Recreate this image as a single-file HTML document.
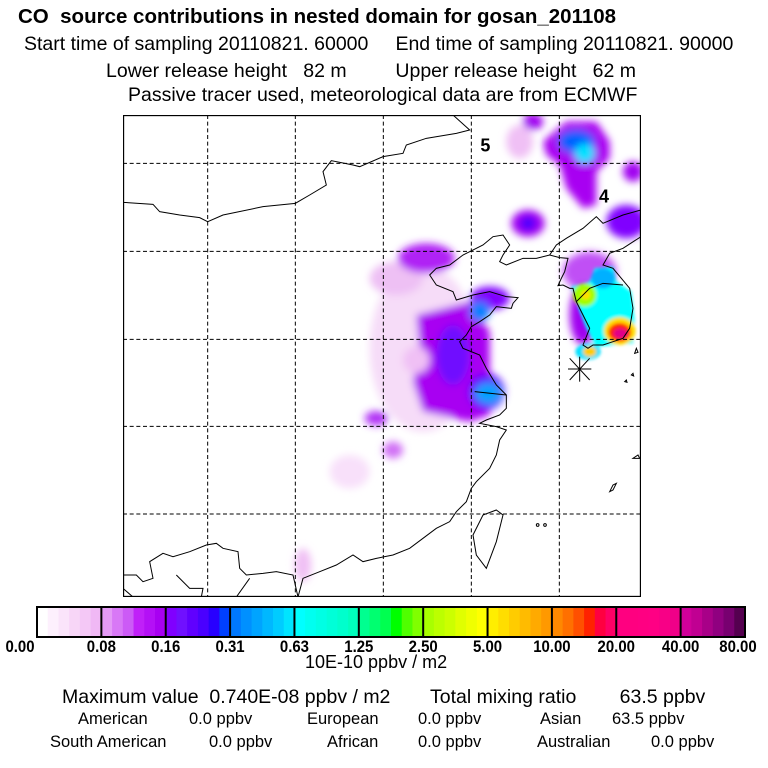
<!DOCTYPE html>
<html><head><meta charset="utf-8"><style>
body{margin:0;background:#fff;width:768px;height:768px;overflow:hidden;position:relative;font-family:"Liberation Sans",sans-serif;color:#000}
.t{position:absolute;white-space:nowrap}
.s{font-size:16.5px}
</style></head><body>
<div class="t" style="left:18px;top:5px;font-size:20.5px;font-weight:bold">CO&nbsp; source contributions in nested domain for gosan_201108</div>
<div class="t" style="left:24px;top:33px;font-size:19.5px">Start time of sampling 20110821. 60000&nbsp;&nbsp;&nbsp;&nbsp;&nbsp;End time of sampling 20110821. 90000</div>
<div class="t" style="left:106px;top:60px;font-size:19.5px">Lower release height&nbsp;&nbsp; 82 m&nbsp;&nbsp;&nbsp;&nbsp;&nbsp;&nbsp;&nbsp;&nbsp; Upper release height&nbsp;&nbsp; 62 m</div>
<div class="t" style="left:128px;top:84px;font-size:19.5px">Passive tracer used, meteorological data are from ECMWF</div>

<svg style="position:absolute;left:123px;top:115px" width="518" height="482" viewBox="0 0 1554 1446" preserveAspectRatio="none">
<defs>
<filter id="b" x="-50%" y="-50%" width="200%" height="200%"><feGaussianBlur stdDeviation="12"/></filter>
<filter id="b2" x="-50%" y="-50%" width="200%" height="200%"><feGaussianBlur stdDeviation="5"/></filter>
<clipPath id="cp"><rect width="1554" height="1446"/></clipPath>
</defs>
<g clip-path="url(#cp)">
<g filter="url(#b)">
<ellipse cx="900" cy="700" rx="160" ry="250" fill="#f6dcf8"/>
<ellipse cx="820" cy="490" rx="80" ry="50" fill="#eec0f4"/>
<ellipse cx="680" cy="1070" rx="60" ry="50" fill="#f8e0fa"/>
<ellipse cx="540" cy="1350" rx="25" ry="50" fill="#f0c0f4"/>
<ellipse cx="810" cy="1005" rx="30" ry="25" fill="#d070f5"/>
<ellipse cx="760" cy="910" rx="35" ry="22" fill="#b030f5"/>
<ellipse cx="910" cy="430" rx="85" ry="45" fill="#b020f5"/>
<path d="M880,600 L1040,560 L1100,650 L1100,900 L1040,920 L900,890 L870,800 L890,700 Z" fill="#a800f2"/>
<ellipse cx="990" cy="720" rx="50" ry="90" fill="#7010ff"/>
<ellipse cx="880" cy="735" rx="40" ry="40" fill="#f0c0f5"/>
<ellipse cx="1100" cy="550" rx="60" ry="35" fill="#8000ff"/>
<ellipse cx="1070" cy="590" rx="30" ry="30" fill="#0080ff"/>
<ellipse cx="1090" cy="830" rx="55" ry="55" fill="#6000ff"/>
<ellipse cx="1095" cy="835" rx="40" ry="32" fill="#00a0ff"/>
<ellipse cx="1190" cy="80" rx="40" ry="50" fill="#f0c0f5"/>
<ellipse cx="1230" cy="20" rx="30" ry="25" fill="#a000f0"/>
<ellipse cx="1215" cy="325" rx="50" ry="40" fill="#a000f0"/>
<ellipse cx="1215" cy="325" rx="22" ry="20" fill="#4000ff"/>
<path d="M1260,80 L1330,20 L1420,20 L1460,80 L1460,130 L1420,170 L1420,270 L1380,280 L1330,220 L1310,150 L1270,120 Z" fill="#a800f2"/>
<ellipse cx="1360" cy="80" rx="55" ry="35" fill="#0060ff"/>
<ellipse cx="1385" cy="115" rx="30" ry="30" fill="#00e0ff"/>
<ellipse cx="1530" cy="170" rx="30" ry="30" fill="#a000f0"/>
<ellipse cx="1510" cy="320" rx="60" ry="50" fill="#8000ff"/>
<ellipse cx="1400" cy="470" rx="80" ry="60" fill="#c050f5"/>
<ellipse cx="1380" cy="600" rx="40" ry="90" fill="#a000f0"/>
</g>
<g filter="url(#b2)">
<path d="M1345,515 L1400,500 L1415,460 L1470,455 L1480,500 L1525,530 L1535,620 L1530,685 L1420,695 L1390,640 L1370,590 Z" fill="#00ffff"/>
<ellipse cx="1440" cy="490" rx="35" ry="30" fill="#00b0ff"/>
<ellipse cx="1385" cy="540" rx="35" ry="35" fill="#a0ff00"/>
<ellipse cx="1388" cy="540" rx="14" ry="14" fill="#ffdd00"/>
<ellipse cx="1490" cy="648" rx="48" ry="42" fill="#ffdd00"/>
<ellipse cx="1490" cy="652" rx="34" ry="28" fill="#ff2200"/>
<ellipse cx="1492" cy="655" rx="20" ry="15" fill="#e0008a"/>
<ellipse cx="1395" cy="710" rx="38" ry="24" fill="#00e0ff"/>
<ellipse cx="1400" cy="710" rx="20" ry="15" fill="#ffcc00"/>
</g>
<g stroke="#000" stroke-width="3" stroke-dasharray="12,8">
<line x1="254" y1="0" x2="254" y2="1446"/><line x1="517" y1="0" x2="517" y2="1446"/><line x1="781" y1="0" x2="781" y2="1446"/><line x1="1045" y1="0" x2="1045" y2="1446"/><line x1="1309" y1="0" x2="1309" y2="1446"/>
<line x1="0" y1="145" x2="1554" y2="145"/><line x1="0" y1="409" x2="1554" y2="409"/><line x1="0" y1="673" x2="1554" y2="673"/><line x1="0" y1="934" x2="1554" y2="934"/><line x1="0" y1="1197" x2="1554" y2="1197"/>
</g>
<g fill="none" stroke="#000" stroke-width="3">
<path d="M0,262 L90,268 L110,290 L170,300 L230,308 L254,320 L300,300 L420,275 L517,265 L560,240 L610,210 L600,170 L625,137 L690,150 L710,155 L780,125 L840,115 L850,90 L910,70 L1000,55 L1040,45 L990,0"/>
<path d="M1554,365 L1500,400 L1460,415 L1440,450 L1470,460 L1520,520 L1530,580 L1520,640 L1500,670 L1470,680 L1440,690 L1410,690 L1395,700 L1380,690 L1400,640 L1380,600 L1360,560 L1350,520 L1340,520 L1320,510 L1305,512 L1315,490 L1325,470 L1335,430 L1310,428 L1280,420 L1240,430 L1200,430 L1150,450 L1130,440 L1140,420 L1160,390 L1140,360 L1110,365 L1080,390 L1040,410 L1020,420 L980,450 L940,460 L920,480 L940,510 L990,530 L1000,555 L1050,540 L1100,530 L1150,545 L1185,548 L1170,565 L1165,580 L1120,575 L1100,600 L1070,620 L1045,635 L1030,660 L1010,680 L1020,700 L1070,720 L1090,760 L1120,810 L1150,840 L1150,880 L1130,900 L1090,915 L1070,925 L1120,935 L1150,945 L1130,975 L1120,1020 L1100,1060 L1060,1100 L1045,1120 L1030,1160 L1000,1190 L980,1220 L940,1240 L900,1270 L860,1300 L810,1320 L760,1330 L720,1340 L690,1320 L640,1350 L590,1370 L540,1390 L525,1446"/>
<path d="M1554,285 L1500,300 L1440,325 L1420,305 L1380,340 L1330,370 L1300,390 L1280,420"/>
<path d="M1360,560 L1400,520 L1440,505 L1500,510"/>
<path d="M1120,1185 L1140,1200 L1120,1280 L1090,1360 L1060,1320 L1050,1260 L1080,1200 Z"/>
<path d="M1055,830 L1150,840"/>
<path d="M0,1380 L40,1380 L60,1400 L90,1390 L80,1340 L120,1315 L150,1325 L200,1310 L250,1290 L280,1285 L300,1300 L345,1310 L350,1360 L370,1380 L420,1375 L460,1370 L510,1380 L525,1446 M0,1420 L30,1446 M160,1380 L200,1420 L240,1420 L235,1446 M380,1390 L340,1446"/>
<path d="M1460,1130 L1470,1110 L1480,1105 L1470,1125 Z M1530,1030 L1545,1020 L1550,1030 Z M1505,800 L1510,795 L1512,802 Z M1525,780 L1530,775 L1532,783 Z M1535,715 L1540,700 L1545,712 Z M1240,1230 a4,4 0 1,0 8,0 a4,4 0 1,0 -8,0 M1262,1230 a4,4 0 1,0 8,0 a4,4 0 1,0 -8,0"/>
</g>
<g stroke="#000" stroke-width="3">
<line x1="1335" y1="762" x2="1405" y2="762"/><line x1="1370" y1="725" x2="1370" y2="800"/><line x1="1340" y1="730" x2="1400" y2="795"/><line x1="1340" y1="795" x2="1400" y2="730"/>
</g>
<text x="1072" y="110" font-size="54" font-weight="bold" font-family="Liberation Sans, sans-serif">5</text>
<text x="1428" y="262" font-size="54" font-weight="bold" font-family="Liberation Sans, sans-serif">4</text>
</g>
<rect x="1.5" y="1.5" width="1551" height="1443" fill="none" stroke="#000" stroke-width="4"/>
</svg>

<svg style="position:absolute;left:0;top:600px" width="768" height="60" id="cb"></svg>
<div class="t" style="left:305px;top:652px;font-size:18px">10E-10 ppbv / m2</div>

<div class="t" style="left:62px;top:686px;font-size:19.5px">Maximum value&nbsp; 0.740E-08 ppbv / m2</div>
<div class="t" style="left:430px;top:686px;font-size:19.5px">Total mixing ratio&nbsp;&nbsp;&nbsp;&nbsp;&nbsp;&nbsp;&nbsp; 63.5 ppbv</div>
<div class="t s" style="left:78px;top:710px">American</div>
<div class="t s" style="left:189px;top:710px">0.0 ppbv</div>
<div class="t s" style="left:307px;top:710px">European</div>
<div class="t s" style="left:418px;top:710px">0.0 ppbv</div>
<div class="t s" style="left:540px;top:710px">Asian</div>
<div class="t s" style="left:612px;top:710px">63.5 ppbv</div>
<div class="t s" style="left:50px;top:733px">South American</div>
<div class="t s" style="left:209px;top:733px">0.0 ppbv</div>
<div class="t s" style="left:327px;top:733px">African</div>
<div class="t s" style="left:418px;top:733px">0.0 ppbv</div>
<div class="t s" style="left:537px;top:733px">Australian</div>
<div class="t s" style="left:651px;top:733px">0.0 ppbv</div>

<script>
const tickLabels=["0.00","0.08","0.16","0.31","0.63","1.25","2.50","5.00","10.00","20.00","40.00","80.00"];
const segColors=[
["#ffffff","#fdf0fd","#fae4fa","#f7d6f7","#f4c8f6","#f0b8f5"],
["#e49af6","#d878f6","#cc5af6","#c020f8","#b410f6","#a800f2"],
["#8000ff","#7010ff","#6000ff","#4a00ff","#2800ff","#0040ff"],
["#0078ff","#0090ff","#00a4ff","#00b8ff","#00ccff","#00e4ff"],
["#00ffff","#00fff0","#00ffe4","#00ffd8","#00ffcc","#00ffbc"],
["#00ff90","#00ff70","#00ff50","#00ff00","#50ff00","#80ff00"],
["#a8ff00","#bcff00","#ccff00","#e0ff00","#f0ff00","#ffff00"],
["#ffee00","#ffdd00","#ffcc00","#ffbb00","#ffaa00","#ff9900"],
["#ff8800","#ff7000","#ff5000","#ff2200","#ff0040","#ff0066"],
["#ff0080","#ff0080","#ff0082","#ff0084","#f80086","#f00088"],
["#d0009a","#c00092","#a80088","#900080","#780070","#550050"]];
const cb=document.getElementById('cb');
const NS="http://www.w3.org/2000/svg";
const x0=37,x1=745,y0=7,h=30;
const sw=(x1-x0)/segColors.length;
function xs(i){return x0+i*sw;}
segColors.forEach((seg,i)=>{
  seg.forEach((c,j)=>{
    const r=document.createElementNS(NS,'rect');
    
    
    r.setAttribute('x',xs(i)+j*sw/seg.length);r.setAttribute('y',y0);
    r.setAttribute('width',sw/seg.length+0.5);r.setAttribute('height',h);r.setAttribute('fill',c);
    cb.appendChild(r);
  });
});
segColors.forEach((s,i)=>{
  const l=document.createElementNS(NS,'line');
  
  
  l.setAttribute('x1',xs(i));l.setAttribute('x2',xs(i));l.setAttribute('y1',y0);l.setAttribute('y2',y0+h);
  l.setAttribute('stroke','#000');l.setAttribute('stroke-width','2');cb.appendChild(l);
});
const fr=document.createElementNS(NS,'rect');


fr.setAttribute('x',x0);fr.setAttribute('y',y0);fr.setAttribute('width',x1-x0);fr.setAttribute('height',h);
fr.setAttribute('fill','none');fr.setAttribute('stroke','#000');fr.setAttribute('stroke-width','2');cb.appendChild(fr);
tickLabels.forEach((t,i)=>{
  const tx=document.createElementNS(NS,'text');
  
  
  let x=xs(i);
  if(i===0)x=20; if(i===tickLabels.length-1)x=Math.min(x,738);
  tx.setAttribute('x',x);tx.setAttribute('y',y0+h+15);tx.setAttribute('text-anchor','middle');
  tx.setAttribute('font-size','17');tx.setAttribute('font-weight','bold');tx.setAttribute('font-family','Liberation Sans, sans-serif');
  tx.setAttribute('transform','translate('+x+',0) scale(0.88,1) translate('+(-x)+',0)');
  tx.textContent=t;cb.appendChild(tx);
});
</script>
</body></html>
